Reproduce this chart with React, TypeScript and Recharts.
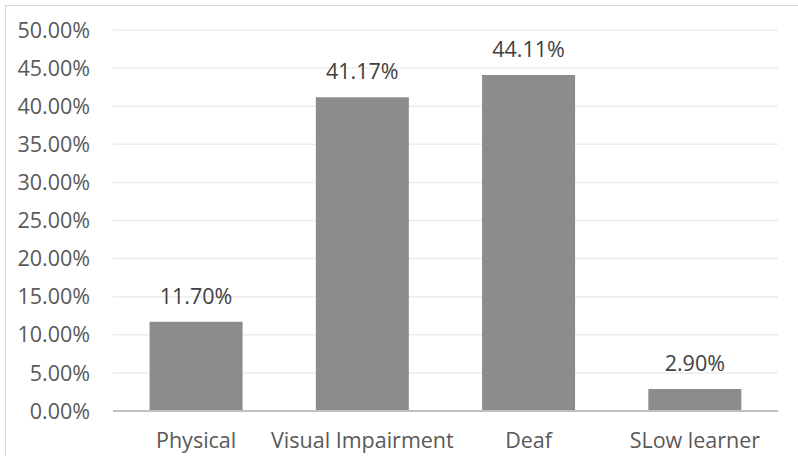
import React from "react";
import { BarChart, Bar, XAxis, YAxis, CartesianGrid, LabelList } from "recharts";

const categories = ["Physical", "Visual Impairment", "Deaf", "SLow learner"];
const values = [11.7, 41.17, 44.11, 2.9];
const yTicks = [0, 5, 10, 15, 20, 25, 30, 35, 40, 45, 50];

const data = categories.map((name, i) => ({ name, value: values[i] }));

const FONT = "'Open Sans', sans-serif";
const fmt = (v: number) => `${Number(v).toFixed(2)}%`;

export default function App() {
  return (
    <div style={{ position: "absolute", left: 0, top: 0, width: 798, height: 456, background: "#fff", overflow: "hidden" }}>
      <div
        style={{
          position: "absolute",
          left: 5,
          top: 5,
          width: 793,
          height: 451,
          borderLeft: "1px solid #d9d9d9",
          borderTop: "1px solid #d9d9d9",
          boxSizing: "border-box",
        }}
      />
      <div style={{ position: "absolute", left: 0, top: 0 }}>
        <BarChart
          width={798}
          height={456}
          data={data}
          margin={{ top: 30, right: 20, bottom: 0, left: 0 }}
          barCategoryGap="22%"
        >
          <CartesianGrid vertical={false} stroke="#ececec" strokeWidth={1.5} />
          <XAxis
            dataKey="name"
            height={45}
            axisLine={{ stroke: "#bfbfbf", strokeWidth: 2 }}
            tickLine={false}
            tickSize={0}
            tickMargin={22}
            tick={{ fill: "#595959", fontSize: 21.5, fontFamily: FONT }}
          />
          <YAxis
            width={113}
            domain={[0, 50]}
            ticks={yTicks}
            interval={0}
            axisLine={false}
            tickLine={false}
            tickSize={0}
            tickMargin={23}
            tickFormatter={fmt}
            tick={{ fill: "#595959", fontSize: 21.5, fontFamily: FONT }}
          />
          <Bar dataKey="value" fill="#8c8c8c" isAnimationActive={false}>
            <LabelList
              dataKey="value"
              position="top"
              offset={18}
              formatter={(v: number) => fmt(v)}
              style={{ fill: "#404040", fontSize: 21.5, fontFamily: FONT }}
            />
          </Bar>
        </BarChart>
      </div>
    </div>
  );
}
